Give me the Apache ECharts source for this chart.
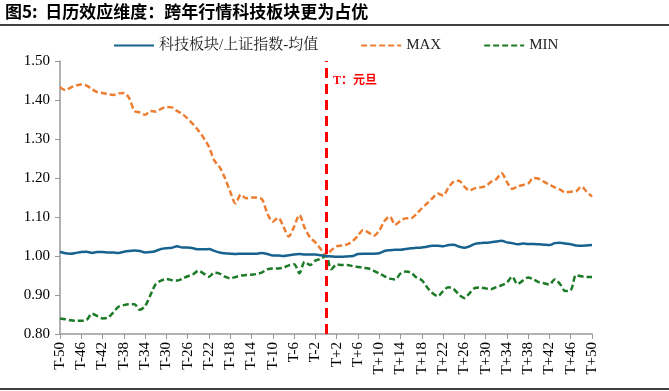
<!DOCTYPE html>
<html><head><meta charset="utf-8">
<script src="https://cdn.jsdelivr.net/npm/echarts@6/dist/echarts.min.js"></script>
<style>html,body{margin:0;padding:0;background:#fff}#c{width:669px;height:391px}</style>
</head><body><div id="c"></div>
<script>
const categories = [];
for (let i = -50; i <= 50; i++) categories.push(i < 0 ? 'T' + i : (i === 0 ? 'T' : 'T+' + i));

const meanValues = [1.011,1.007,1.006,1.008,1.010,1.011,1.008,1.010,1.010,1.009,1.009,1.008,1.011,1.013,1.014,1.013,1.009,1.010,1.013,1.018,1.020,1.021,1.025,1.022,1.022,1.020,1.017,1.017,1.018,1.013,1.009,1.007,1.006,1.005,1.006,1.006,1.006,1.006,1.008,1.005,1.001,1.001,1.000,1.002,1.004,1.005,1.004,1.004,1.004,1.002,1.000,
0.999,0.998,0.998,0.999,1.000,1.005,1.006,1.006,1.006,1.007,1.013,1.015,1.016,1.016,1.018,1.020,1.021,1.022,1.024,1.026,1.026,1.025,1.028,1.029,1.024,1.021,1.025,1.031,1.033,1.034,1.035,1.037,1.039,1.035,1.033,1.030,1.032,1.031,1.031,1.030,1.029,1.028,1.033,1.034,1.032,1.030,1.027,1.026,1.027,1.028];

const maxValues = [1.433,1.425,1.432,1.437,1.440,1.437,1.428,1.420,1.418,1.415,1.413,1.417,1.418,1.405,1.372,1.368,1.362,1.372,1.370,1.377,1.382,1.381,1.372,1.364,1.352,1.338,1.322,1.303,1.280,1.245,1.228,1.200,1.165,1.135,1.157,1.148,1.150,1.150,1.145,1.108,1.088,1.098,1.075,1.050,1.075,1.105,1.072,1.048,1.035,1.018,1.000,
1.015,1.025,1.027,1.030,1.038,1.052,1.067,1.060,1.052,1.065,1.090,1.101,1.080,1.090,1.097,1.097,1.108,1.122,1.135,1.148,1.160,1.155,1.175,1.191,1.193,1.178,1.168,1.174,1.176,1.179,1.190,1.197,1.212,1.190,1.172,1.178,1.182,1.186,1.200,1.198,1.190,1.183,1.176,1.170,1.163,1.165,1.166,1.178,1.165,1.152];

const minValues = [0.840,0.838,0.835,0.834,0.834,0.836,0.852,0.846,0.840,0.842,0.855,0.870,0.874,0.876,0.876,0.862,0.872,0.900,0.928,0.937,0.941,0.938,0.937,0.942,0.948,0.953,0.962,0.955,0.947,0.957,0.955,0.947,0.943,0.946,0.950,0.951,0.952,0.954,0.958,0.966,0.968,0.968,0.970,0.976,0.979,0.956,0.985,0.977,0.988,0.993,1.000,
0.966,0.978,0.977,0.977,0.974,0.972,0.970,0.968,0.962,0.955,0.948,0.942,0.940,0.955,0.960,0.957,0.945,0.938,0.920,0.905,0.897,0.910,0.920,0.915,0.901,0.892,0.905,0.918,0.919,0.917,0.915,0.920,0.925,0.932,0.947,0.928,0.937,0.945,0.940,0.933,0.930,0.927,0.940,0.928,0.910,0.912,0.951,0.948,0.946,0.946];

const seriesNames = ['科技板块/上证指数-均值', 'MAX', 'MIN'];
const titleText = '图5:  日历效应维度：跨年行情科技板块更为占优';
const eventLabel = 'T：元旦';
const eventCategory = 'T';

const serif = '"Liberation Serif","Noto Serif CJK SC","Noto Sans CJK SC",serif';
const chart = echarts.init(document.getElementById('c'), null, {renderer: 'canvas'});
chart.setOption({
  animation: false,
  backgroundColor: '#fff',
  grid: {left: 60, right: 77, top: 61, bottom: 57},
  graphic: [
    {type: 'text', left: 5, top: 3, style: {text: titleText, font: 'bold 17px "Noto Sans CJK SC", sans-serif', fill: '#000'}},
    {type: 'line', shape: {x1: 0, y1: 25, x2: 669, y2: 25}, style: {stroke: '#000', lineWidth: 1.5}},
    {type: 'line', shape: {x1: 0, y1: 389, x2: 669, y2: 389}, style: {stroke: '#000', lineWidth: 1.5}},
    {type: 'text', left: 333, top: 75, style: {text: eventLabel, font: 'bold 12px "Liberation Serif","Noto Sans CJK SC",serif', fill: '#ff0000'}}
  ],
  legend: {
    top: 33, left: 108,
    itemWidth: 40, itemHeight: 10, itemGap: 42,
    itemStyle: {opacity: 0},
    textStyle: {fontFamily: serif, fontSize: 15, color: '#222'},
    data: seriesNames
  },
  xAxis: {
    type: 'category', data: categories, boundaryGap: false,
    axisLine: {lineStyle: {color: '#999', width: 1.5}},
    axisTick: {interval: 3, length: 5, lineStyle: {color: '#999'}},
    axisLabel: {interval: 3, rotate: 90, fontFamily: serif, fontSize: 15, color: '#000', margin: 8}
  },
  yAxis: {
    type: 'value', min: 0.8, max: 1.5, interval: 0.1,
    splitLine: {show: false},
    axisLine: {show: true, lineStyle: {color: '#999', width: 1.5}},
    axisTick: {show: true, length: 5, lineStyle: {color: '#999'}},
    axisLabel: {formatter: v => v.toFixed(2), fontFamily: serif, fontSize: 15, color: '#000', margin: 10}
  },
  series: [
    {name: seriesNames[0], type: 'line', data: meanValues, symbol: 'none', smooth: 0.3,
     lineStyle: {color: '#17628f', width: 2.5}, itemStyle: {color: '#17628f'}, z: 3},
    {name: seriesNames[1], type: 'line', data: maxValues, symbol: 'none', smooth: 0.3,
     lineStyle: {color: '#ed7d31', width: 2.5, type: [6, 3]}, itemStyle: {color: '#ed7d31'}, z: 2,
     markLine: {silent: true, symbol: 'none', label: {show: false},
       lineStyle: {color: '#ff0000', width: 3, type: [10, 6]},
       data: [{xAxis: eventCategory}]}},
    {name: seriesNames[2], type: 'line', data: minValues, symbol: 'none', smooth: 0.3,
     lineStyle: {color: '#1b7a25', width: 2.5, type: [6, 3]}, itemStyle: {color: '#1b7a25'}, z: 2}
  ]
});
</script></body></html>
